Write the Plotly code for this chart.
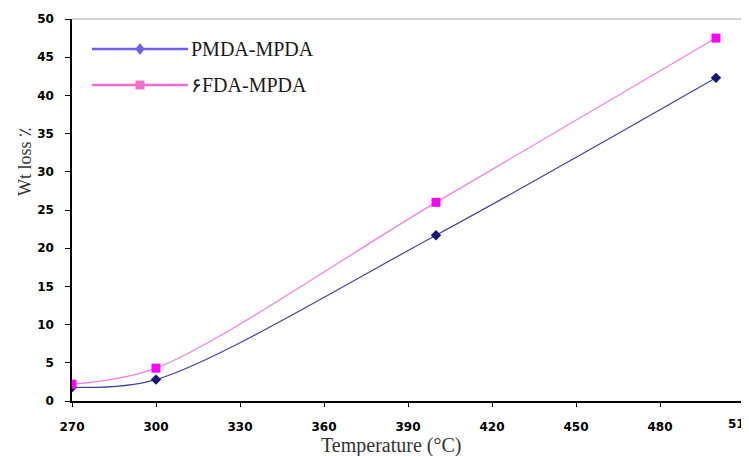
import plotly.graph_objects as go

# Data
temperature = [270, 300, 400, 500]
pmda_mpda = [1.8, 2.8, 21.7, 42.3]
fda_mpda = [2.2, 4.3, 26.0, 47.5]
x_ticks = [270, 300, 330, 360, 390, 420, 450, 480, 510]
y_ticks = [0, 5, 10, 15, 20, 25, 30, 35, 40, 45, 50]
series_names = ["PMDA-MPDA", "۶FDA-MPDA"]

# page body has an 8px margin; compensate so the chart lands where the reference is
OFF = 8
W, H = 749 - OFF, 456 - OFF
L, R, T, B = 72 - OFF, 5, 19 - OFF, 55
pw, ph = W - L - R, H - T - B

def px(xp):
    return (xp - OFF - L) / pw

def py(yp):
    return (H - B - (yp - OFF)) / ph

fig = go.Figure()
fig.add_trace(go.Scatter(
    x=temperature, y=pmda_mpda, name=series_names[0], mode="lines+markers",
    line=dict(color="#43439a", width=1.2, shape="spline", smoothing=0.9),
    marker=dict(symbol="diamond", size=8, color="#14147a"),
    showlegend=False,
))
fig.add_trace(go.Scatter(
    x=temperature, y=fda_mpda, name=series_names[1], mode="lines+markers",
    line=dict(color="#f07fe4", width=1.2, shape="spline", smoothing=0.9),
    marker=dict(symbol="square", size=9, color="#ff00ff"),
    showlegend=False,
))

shapes = []
annotations = []
# plot frame (top and right, light grey)
shapes.append(dict(type="line", xref="paper", yref="paper", x0=0, x1=1, y0=1, y1=1,
                   line=dict(color="#c4c4c4", width=1.5)))
shapes.append(dict(type="line", xref="paper", yref="paper", x0=1, x1=1, y0=0, y1=1,
                   line=dict(color="#c4c4c4", width=1.5)))

# custom legend
leg = [
    (series_names[0], 49, "#6f5cf0", "diamond"),
    (series_names[1], 85, "#f070c8", "square"),
]
for name, yp, col, sym in leg:
    shapes.append(dict(type="line", xref="paper", yref="paper",
                       x0=px(92), x1=px(188), y0=py(yp), y1=py(yp),
                       line=dict(color=col, width=2.5)))
    if sym == "diamond":
        path = (f"M {px(140)},{py(yp-6)} L {px(144.5)},{py(yp)} "
                f"L {px(140)},{py(yp+6)} L {px(135.5)},{py(yp)} Z")
    else:
        path = (f"M {px(135.5)},{py(yp-4.5)} L {px(144.5)},{py(yp-4.5)} "
                f"L {px(144.5)},{py(yp+4.5)} L {px(135.5)},{py(yp+4.5)} Z")
    shapes.append(dict(type="path", xref="paper", yref="paper", path=path,
                       fillcolor=col, line=dict(color=col, width=0)))
    annotations.append(dict(text=name, xref="paper", yref="paper",
                            x=px(189), y=py(yp), xanchor="left", yanchor="middle",
                            showarrow=False,
                            font=dict(family="Liberation Serif", size=20, color="#1a1a1a")))

tickfont = dict(family="DejaVu Sans", size=12, color="#000000", weight="bold")

# last x tick label (cut by the right edge, as in the reference)
annotations.append(dict(text=str(x_ticks[-1]), xref="x", yref="paper",
                        x=x_ticks[-1], y=py(424), xanchor="center", yanchor="middle",
                        xshift=-4, showarrow=False, font=tickfont))

# axis titles
annotations.append(dict(text="Temperature (°C)", xref="paper", yref="paper",
                        x=px(391), y=py(445), xanchor="center", yanchor="middle",
                        showarrow=False,
                        font=dict(family="Liberation Serif", size=20, color="#333333")))
annotations.append(dict(text="Wt loss ٪", xref="paper", yref="paper",
                        x=px(25), y=py(162), xanchor="center", yanchor="middle",
                        textangle=-90, showarrow=False,
                        font=dict(family="Liberation Serif", size=18, color="#333333")))

fig.update_layout(
    width=W, height=H,
    margin=dict(l=L, r=R, t=T, b=B, pad=0),
    paper_bgcolor="white", plot_bgcolor="white",
    shapes=shapes, annotations=annotations,
    xaxis=dict(range=[270, 510], tickvals=x_ticks, ticktext=[str(v) for v in x_ticks],
               showgrid=False, zeroline=False, showline=True, linecolor="#000000",
               linewidth=1.5, ticks="outside", ticklen=4, tickcolor="#000000",
               tickfont=tickfont, ticklabelstandoff=10),
    yaxis=dict(range=[0, 50], tickvals=y_ticks, showgrid=False, zeroline=False,
               showline=True, linecolor="#000000", linewidth=1.5, ticks="outside",
               ticklen=5, tickcolor="#000000", tickfont=tickfont, ticklabelstandoff=9),
)

fig.write_html("out.html")
